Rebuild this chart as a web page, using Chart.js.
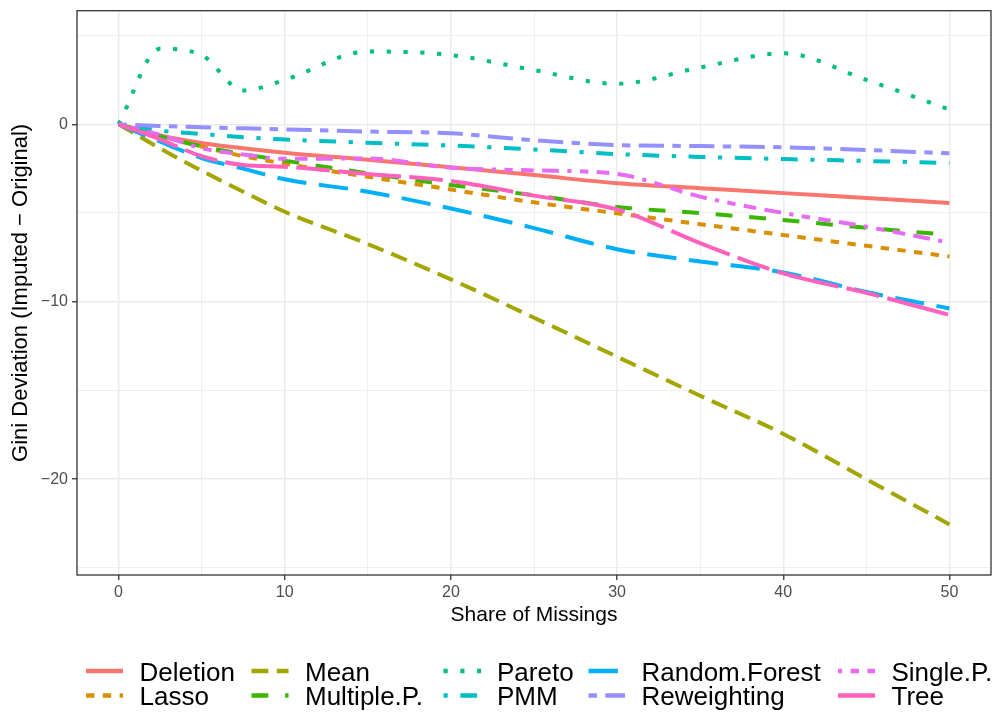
<!DOCTYPE html>
<html>
<head>
<meta charset="utf-8">
<script src="https://cdn.jsdelivr.net/npm/chart.js@4.4.0/dist/chart.umd.min.js"></script>
<style>
  body { margin: 0; background: #fff; }
  #wrap { width: 1003px; height: 713px; position: relative; }
</style>
</head>
<body>
<div id="wrap"><canvas id="chart"></canvas></div>
<script>
// share of missings (x)
const shares = [0, 2.5, 5, 7.5, 10, 15, 20, 25, 30, 35, 40, 45, 50];

// gini deviation per method
const deletion     = [0, -0.63, -1.05, -1.35, -1.6, -2.0, -2.42, -2.86, -3.32, -3.6, -3.88, -4.15, -4.43];
const lasso        = [0, -0.66, -1.25, -1.8, -2.22, -2.96, -3.68, -4.4, -5.02, -5.63, -6.24, -6.85, -7.45];
const mean         = [0, -1.36, -2.62, -3.8, -4.93, -6.75, -8.74, -10.9, -13.1, -15.3, -17.45, -20.0, -22.55];
const multipleP    = [0, -0.68, -1.24, -1.68, -2.05, -2.76, -3.42, -4.0, -4.66, -5.0, -5.4, -5.83, -6.24];
const pareto       = [0, 4.25, 3.9, 1.9, 2.5, 4.1, 3.9, 3.05, 2.28, 3.2, 4.0, 2.5, 0.83];
const pmm          = [0, -0.36, -0.55, -0.73, -0.86, -1.04, -1.2, -1.42, -1.68, -1.84, -1.96, -2.07, -2.18];
const randomForest = [0, -0.98, -1.9, -2.5, -3.1, -3.8, -4.75, -5.85, -7.04, -7.73, -8.35, -9.45, -10.38];
const reweighting  = [0, -0.1, -0.17, -0.23, -0.29, -0.41, -0.51, -0.9, -1.17, -1.23, -1.3, -1.45, -1.64];
const singleP      = [0, -0.6, -1.35, -1.7, -1.95, -1.93, -2.45, -2.6, -2.8, -4.08, -5.0, -5.77, -6.67];
const tree         = [0, -0.85, -1.8, -2.3, -2.4, -2.8, -3.2, -4.02, -4.8, -6.7, -8.4, -9.5, -10.75];

const methods = ['Deletion', 'Lasso', 'Mean', 'Multiple.P.', 'Pareto', 'PMM', 'Random.Forest', 'Reweighting', 'Single.P.', 'Tree'];
const values = [deletion, lasso, mean, multipleP, pareto, pmm, randomForest, reweighting, singleP, tree];
const colors = ['#F8766D', '#D89000', '#A3A500', '#39B600', '#00BF7D', '#00BFC4', '#00B0F6', '#9590FF', '#E76BF3', '#FF62BC'];

// ggplot style linetypes (hex digits, times line width)
const linetypes = ['', '22', '42', '44', '13', '1343', '73', '2262', '12223242', 'F282'];
const unit = 4.2;
function dashOf(lt) {
  return lt.split('').map(function(c) { return parseInt(c, 16) * unit; });
}

const datasets = methods.map(function(name, i) {
  return {
    label: name,
    data: shares.map(function(x, j) { return {x: x, y: values[i][j]}; }),
    borderColor: colors[i],
    backgroundColor: colors[i],
    borderWidth: 4,
    borderDash: dashOf(linetypes[i]),
    borderCapStyle: 'butt',
    pointRadius: 0,
    cubicInterpolationMode: 'monotone',
    order: methods.length - i
  };
});

function isMajor(v) { return Math.abs(v % 10) < 1e-6; }
function minus(v) { return v < 0 ? '\u2212' + Math.abs(v) : String(v); }

// legend laid out in columns like ggplot
const legendCols = [
  {line: [86, 123], text: 139.5},
  {line: [251.5, 288.5], text: 305},
  {line: [443.5, 481], text: 497},
  {line: [588.5, 625], text: 641.5},
  {line: [838, 875], text: 891.5}
];
const legendRows = [671, 695.5];

const panelPlugin = {
  id: 'panel',
  afterDatasetsDraw(chart) {
    const ctx = chart.ctx, a = chart.chartArea;
    ctx.save();
    ctx.strokeStyle = '#333333';
    ctx.lineWidth = 1.3;
    ctx.strokeRect(a.left, a.top, a.right - a.left, a.bottom - a.top);
    ctx.restore();
  },
  afterDraw(chart) {
    const ctx = chart.ctx;
    ctx.save();
    ctx.font = '26px "Liberation Sans", Arial, sans-serif';
    ctx.textBaseline = 'alphabetic';
    ctx.fillStyle = '#000';
    chart.data.datasets.forEach(function(ds, i) {
      const col = legendCols[Math.floor(i / 2)];
      const y = legendRows[i % 2];
      ctx.strokeStyle = ds.borderColor;
      ctx.lineWidth = 4.5;
      ctx.lineCap = 'butt';
      ctx.setLineDash(ds.borderDash);
      ctx.beginPath();
      ctx.moveTo(col.line[0], y);
      ctx.lineTo(col.line[1], y);
      ctx.stroke();
      ctx.setLineDash([]);
      ctx.fillText(ds.label, col.text, y + 9.5);
    });
    ctx.restore();
  }
};

const gridColor = function(ctx) { return '#EBEBEB'; };
const gridWidth = function(ctx) { return ctx.tick && isMajor(ctx.tick.value) ? 1.5 : 0.8; };
const tickColor = function(ctx) { return ctx.tick && isMajor(ctx.tick.value) ? '#333333' : 'rgba(0,0,0,0)'; };

new Chart(document.getElementById('chart'), {
  type: 'line',
  data: { datasets: datasets },
  plugins: [panelPlugin],
  options: {
    responsive: true,
    maintainAspectRatio: false,
    animation: false,
    layout: { padding: { left: 0, top: 10.7, right: 12, bottom: 78 } },
    plugins: { legend: { display: false }, tooltip: { enabled: false } },
    scales: {
      x: {
        type: 'linear',
        min: -2.5,
        max: 52.5,
        afterBuildTicks: function(s) {
          s.ticks = [0, 5, 10, 15, 20, 25, 30, 35, 40, 45, 50].map(function(v) { return {value: v}; });
        },
        afterFit: function(s) { s.height = 60; s.paddingLeft = 0; s.paddingRight = 0; },
        border: { display: false },
        grid: { color: gridColor, lineWidth: gridWidth, tickColor: tickColor, tickLength: 5, tickWidth: 1.3 },
        ticks: {
          padding: 2.5,
          color: '#4D4D4D',
          font: { family: '"Liberation Sans", Arial, sans-serif', size: 16 },
          maxRotation: 0,
          autoSkip: false,
          callback: function(v) { return isMajor(v) ? minus(v) : ''; }
        },
        title: {
          display: true,
          text: 'Share of Missings',
          color: '#000',
          font: { family: '"Liberation Sans", Arial, sans-serif', size: 21 },
          padding: { top: 7.4, bottom: 7.4 }
        }
      },
      y: {
        type: 'linear',
        min: -25.4,
        max: 6.4,
        afterBuildTicks: function(s) {
          s.ticks = [-25, -20, -15, -10, -5, 0, 5].map(function(v) { return {value: v}; });
        },
        afterFit: function(s) { s.width = 77; s.paddingTop = 0; s.paddingBottom = 0; },
        border: { display: false },
        grid: { color: gridColor, lineWidth: gridWidth, tickColor: tickColor, tickLength: 5, tickWidth: 1.3 },
        ticks: {
          padding: 4,
          color: '#4D4D4D',
          font: { family: '"Liberation Sans", Arial, sans-serif', size: 16 },
          autoSkip: false,
          callback: function(v) { return isMajor(v) ? minus(v) : ''; }
        },
        title: {
          display: true,
          text: 'Gini Deviation (Imputed \u2212 Original)',
          color: '#000',
          font: { family: '"Liberation Sans", Arial, sans-serif', size: 22 },
          padding: { top: 7.8, bottom: 7.8 }
        }
      }
    }
  }
});
</script>
</body>
</html>
